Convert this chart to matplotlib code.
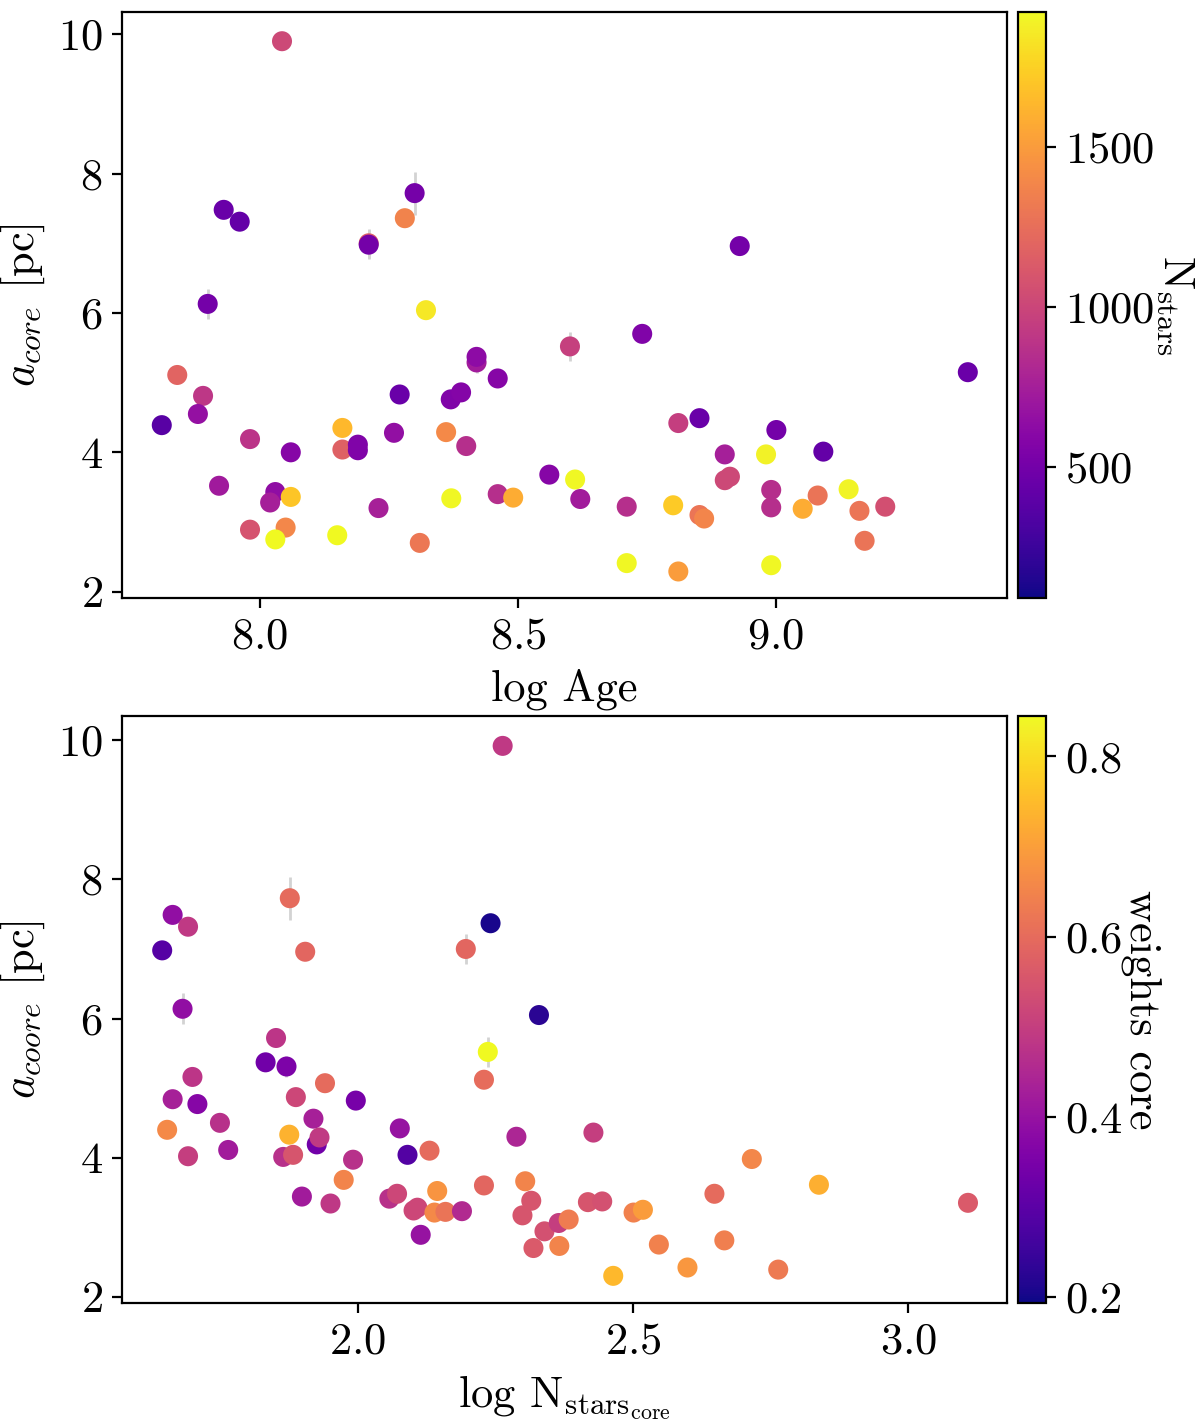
import matplotlib
matplotlib.use('Agg')
import matplotlib.pyplot as plt
from matplotlib.colors import Normalize

plt.rcParams['font.family'] = 'serif'
plt.rcParams['font.serif'] = ['cmr10']
plt.rcParams['mathtext.fontset'] = 'cm'
plt.rcParams['axes.formatter.use_mathtext'] = True
plt.rcParams['font.size'] = 16

# top panel: log age vs core radius, coloured by total number of stars
log_age = [8.043, 7.930, 7.961, 7.899, 8.211, 8.211, 8.300, 8.281, 8.322, 8.601, 8.741, 9.372, 8.930,
           7.840, 7.890, 7.880, 7.810, 7.981, 8.060, 8.160, 8.160, 8.190, 8.190,
           8.271, 8.260, 8.361, 8.400, 8.370, 8.390, 8.420, 8.420, 8.461, 7.921,
           8.030, 8.020, 8.060, 7.981, 8.050, 8.030, 8.150, 8.230, 8.310, 8.371,
           8.461, 8.491, 8.561,
           8.811, 8.852, 9.001, 9.092, 8.901, 8.981, 8.901, 8.911, 8.611, 8.621,
           8.711, 8.801, 8.852, 8.861, 8.991, 8.991, 9.052, 9.081, 9.141, 9.162,
           9.212, 9.172, 8.711, 8.811, 8.991]
a_core = [9.90, 7.48, 7.31, 6.13, 7.00, 6.98, 7.72, 7.36, 6.04, 5.52, 5.70, 5.15, 6.96,
          5.11, 4.81, 4.55, 4.39, 4.19, 4.00, 4.35, 4.04, 4.11, 4.03,
          4.83, 4.28, 4.29, 4.09, 4.76, 4.86, 5.29, 5.37, 5.06, 3.52,
          3.43, 3.28, 3.36, 2.89, 2.92, 2.75, 2.81, 3.20, 2.70, 3.34,
          3.40, 3.35, 3.68,
          4.42, 4.49, 4.32, 4.01, 3.97, 3.97, 3.60, 3.65, 3.61, 3.33,
          3.22, 3.24, 3.10, 3.05, 3.46, 3.21, 3.19, 3.38, 3.47, 3.16,
          3.22, 2.73, 2.41, 2.29, 2.38]
a_core_err = [0.06, 0.06, 0.06, 0.22, 0.21, 0.21, 0.31, 0.06, 0.06, 0.21, 0.06, 0.06, 0.06,
              0.06, 0.06, 0.06, 0.06, 0.06, 0.06, 0.06, 0.06, 0.06, 0.06,
              0.06, 0.06, 0.06, 0.06, 0.06, 0.06, 0.15, 0.06, 0.06, 0.06,
              0.06, 0.06, 0.06, 0.06, 0.06, 0.06, 0.06, 0.06, 0.06, 0.06,
              0.06, 0.06, 0.06,
              0.06, 0.06, 0.06, 0.06, 0.06, 0.06, 0.06, 0.06, 0.06, 0.06,
              0.06, 0.06, 0.06, 0.06, 0.06, 0.06, 0.06, 0.06, 0.06, 0.06,
              0.06, 0.06, 0.06, 0.06, 0.06]
n_stars = [1020, 450, 430, 500, 1150, 500, 510, 1370, 1850, 960, 560, 460, 500,
           1190, 900, 660, 370, 890, 590, 1640, 1170, 560, 560,
           450, 650, 1400, 850, 560, 580, 730, 620, 590, 720,
           640, 750, 1700, 1080, 1390, 1920, 1920, 760, 1300, 1910,
           850, 1580, 590,
           950, 450, 500, 430, 750, 1890, 1020, 1020, 1910, 730,
           850, 1720, 1290, 1380, 850, 850, 1580, 1280, 1900, 1290,
           1060, 1280, 1910, 1500, 1910]

# bottom panel: log N stars in core vs core radius, coloured by core weight
log_ncore = [2.263, 1.663, 1.691, 1.644, 1.876, 1.904, 2.196, 2.241, 1.681, 2.329,
             1.851, 1.832, 1.870, 2.236, 2.229, 1.940, 1.887, 1.996, 1.699, 1.663,
             1.708, 1.749, 1.653, 1.691, 1.764, 1.875, 1.919, 1.925, 1.930, 1.864,
             1.882, 1.991, 1.974, 1.898, 1.950, 2.076, 2.090, 2.130, 2.057, 2.071,
             2.101, 2.108, 2.114, 2.144, 2.139, 2.159, 2.189, 2.229, 2.288, 2.304,
             2.315, 2.299, 2.339, 2.319,
             2.428, 2.716, 2.838, 3.109, 2.648, 2.418, 2.444, 2.501, 2.518, 2.365,
             2.383, 2.366, 2.547, 2.666, 2.599, 2.464, 2.764]
a_coore = [9.92, 7.49, 7.32, 6.98, 7.73, 6.96, 7.00, 7.37, 6.14, 6.05,
           5.72, 5.37, 5.31, 5.52, 5.12, 5.07, 4.87, 4.82, 5.16, 4.84,
           4.77, 4.50, 4.40, 4.02, 4.11, 4.33, 4.56, 4.19, 4.29, 4.01,
           4.04, 3.97, 3.68, 3.44, 3.34, 4.42, 4.04, 4.10, 3.41, 3.48,
           3.24, 3.28, 2.89, 3.52, 3.21, 3.22, 3.23, 3.60, 4.30, 3.66,
           3.38, 3.17, 2.94, 2.70,
           4.36, 3.98, 3.61, 3.35, 3.48, 3.36, 3.37, 3.21, 3.25, 3.06,
           3.11, 2.73, 2.75, 2.81, 2.42, 2.30, 2.39]
a_coore_err = [0.06, 0.06, 0.06, 0.06, 0.31, 0.06, 0.21, 0.06, 0.22, 0.06,
               0.06, 0.06, 0.15, 0.21, 0.06, 0.06, 0.06, 0.06, 0.06, 0.06,
               0.06, 0.06, 0.06, 0.06, 0.06, 0.06, 0.06, 0.06, 0.06, 0.06,
               0.06, 0.06, 0.06, 0.06, 0.06, 0.06, 0.06, 0.06, 0.06, 0.06,
               0.06, 0.06, 0.06, 0.06, 0.06, 0.06, 0.06, 0.06, 0.06, 0.06,
               0.06, 0.06, 0.06, 0.06,
               0.06, 0.06, 0.06, 0.06, 0.06, 0.06, 0.06, 0.06, 0.06, 0.06,
               0.06, 0.06, 0.06, 0.06, 0.06, 0.06, 0.06]
weights_core = [0.486, 0.39, 0.486, 0.29, 0.60, 0.59, 0.59, 0.205, 0.39, 0.225,
                0.48, 0.335, 0.355, 0.845, 0.603, 0.60, 0.52, 0.345, 0.48, 0.43,
                0.37, 0.47, 0.66, 0.50, 0.42, 0.735, 0.43, 0.335, 0.49, 0.47,
                0.55, 0.47, 0.65, 0.42, 0.485, 0.40, 0.285, 0.60, 0.47, 0.52,
                0.52, 0.52, 0.40, 0.68, 0.66, 0.616, 0.455, 0.59, 0.445, 0.65,
                0.55, 0.55, 0.54, 0.56,
                0.50, 0.655, 0.73, 0.56, 0.60, 0.55, 0.54, 0.645, 0.695, 0.50,
                0.635, 0.65, 0.645, 0.64, 0.685, 0.745, 0.63]

nstars_lim = (90, 1922)
weights_lim = (0.193, 0.845)

fig = plt.figure(figsize=(6, 7.11), dpi=200)

ax1 = fig.add_axes([0.1017, 0.5795, 0.7375, 0.4121])
cax1 = fig.add_axes([0.8483, 0.5795, 0.0233, 0.4121])
ax2 = fig.add_axes([0.1017, 0.0837, 0.7375, 0.4128])
cax2 = fig.add_axes([0.8483, 0.0837, 0.0233, 0.4128])

# top
ax1.errorbar(log_age, a_core, yerr=a_core_err, fmt='none', ecolor='lightgrey',
             elinewidth=1.0, zorder=1)
sc1 = ax1.scatter(log_age, a_core, c=n_stars, cmap='plasma',
                  norm=Normalize(*nstars_lim), s=52, linewidths=0, zorder=2)
ax1.set_xlim(7.733, 9.448)
ax1.set_ylim(1.91, 10.32)
ax1.set_xticks([8.0, 8.5, 9.0])
ax1.set_yticks([2, 4, 6, 8, 10])
ax1.set_xlabel('log Age')
ax1.set_ylabel(r'$a_{core}$ [pc]')
cb1 = fig.colorbar(sc1, cax=cax1)
cb1.set_ticks([500, 1000, 1500])
cb1.set_label(r'N$_{\mathrm{stars}}$', rotation=270, labelpad=15)

# bottom
ax2.errorbar(log_ncore, a_coore, yerr=a_coore_err, fmt='none', ecolor='lightgrey',
             elinewidth=1.0, zorder=1)
sc2 = ax2.scatter(log_ncore, a_coore, c=weights_core, cmap='plasma',
                  norm=Normalize(*weights_lim), s=52, linewidths=0, zorder=2)
ax2.set_xlim(1.571, 3.180)
ax2.set_ylim(1.91, 10.35)
ax2.set_xticks([2.0, 2.5, 3.0])
ax2.set_yticks([2, 4, 6, 8, 10])
ax2.set_xlabel(r'log N$_{\mathrm{stars}_{\mathrm{core}}}$')
ax2.set_ylabel(r'$a_{coore}$ [pc]')
cb2 = fig.colorbar(sc2, cax=cax2)
cb2.set_ticks([0.2, 0.4, 0.6, 0.8])
cb2.set_label('weights core', rotation=270, labelpad=14)

fig.savefig('out.png', dpi=200)
